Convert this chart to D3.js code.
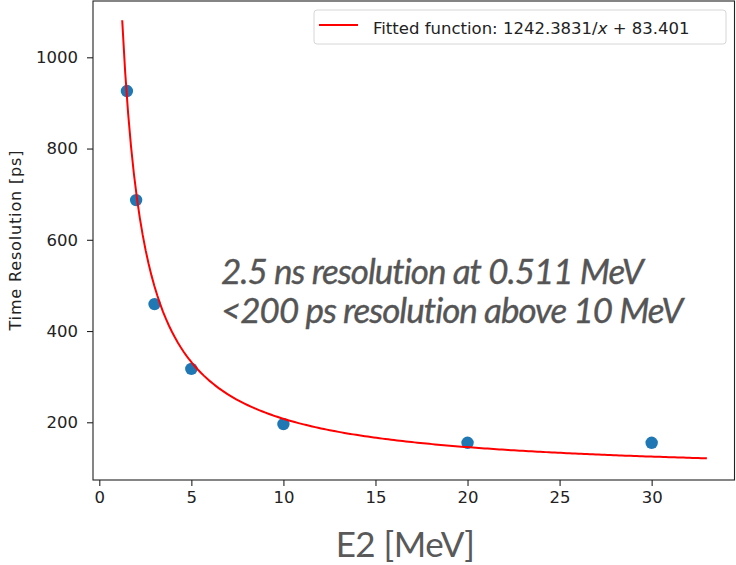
<!DOCTYPE html>
<html>
<head>
<meta charset="utf-8">
<script src="https://cdn.jsdelivr.net/npm/d3@7"></script>
<style>
  html, body { margin: 0; padding: 0; background: #fff; }
  svg { display: block; }
</style>
</head>
<body>
<svg id="chart" width="736" height="565"></svg>
<script>
// ---- data ----
const energies = [1.5, 2, 3, 5, 10, 20, 30];          // E2 [MeV]
const resolutions = [926, 687, 459, 317, 196, 155, 155]; // Time resolution [ps]
const fitA = 1242.3831;   // fitted: A / x + B (from the legend)
const fitB = 83.401;
const fitRange = [1.245, 33];
const xTicks = [0, 5, 10, 15, 20, 25, 30];
const yTicks = [200, 400, 600, 800, 1000];
const legendLabel = "Fitted function: 1242.3831/";
const annotationLines = ["2.5 ns resolution at 0.511 MeV", "<200 ps resolution above 10 MeV"];
const xLabel = "E2 [MeV]";
const yLabel = "Time Resolution [ps]";

// ---- layout ----
const svg = d3.select("#chart");
const plot = { left: 93, right: 734.5, top: 1, bottom: 480 };

const x = d3.scaleLinear().domain([-0.342, 34.5]).range([plot.left, plot.right]);
const y = d3.scaleLinear().domain([73.5, 1123.4]).range([plot.bottom, plot.top]);

// fitted curve samples
const fitXs = d3.range(0, 201).map(i => fitRange[0] + (fitRange[1] - fitRange[0]) * i / 200);
const fitPts = fitXs.map(v => [v, fitA / v + fitB]);

// axes
const xAxis = d3.axisBottom(x).tickValues(xTicks).tickSize(6).tickPadding(5).tickFormat(d3.format("d"));
const yAxis = d3.axisLeft(y).tickValues(yTicks).tickSize(6).tickPadding(9).tickFormat(d3.format("d"));

const gx = svg.append("g").attr("transform", `translate(0,${plot.bottom})`).call(xAxis);
const gy = svg.append("g").attr("transform", `translate(${plot.left},0)`).call(yAxis);
[gx, gy].forEach(g => {
  g.select(".domain").remove();
  g.selectAll(".tick line").attr("stroke", "#222").attr("stroke-width", 1.1);
  g.selectAll(".tick text").attr("fill", "#222")
    .style("font-family", "'DejaVu Sans', sans-serif").style("font-size", "16.5px");
});

// points (drawn under the line)
svg.append("g").selectAll("circle").data(energies).join("circle")
  .attr("cx", (d) => x(d))
  .attr("cy", (d, i) => y(resolutions[i]))
  .attr("r", 6.2)
  .attr("fill", "#1f77b4");

// fitted line
svg.append("path")
  .datum(fitPts)
  .attr("fill", "none")
  .attr("stroke", "#ff0000")
  .attr("stroke-width", 2)
  .attr("d", d3.line().x(d => x(d[0])).y(d => y(d[1])));

// frame
svg.append("rect")
  .attr("x", plot.left).attr("y", plot.top)
  .attr("width", plot.right - plot.left).attr("height", plot.bottom - plot.top)
  .attr("fill", "none").attr("stroke", "#222").attr("stroke-width", 1.1);

// legend
const lg = svg.append("g");
lg.append("rect").attr("x", 314).attr("y", 10).attr("width", 412).attr("height", 34)
  .attr("rx", 3).attr("fill", "#fff").attr("stroke", "#d6d6d6").attr("stroke-width", 1);
lg.append("line").attr("x1", 319).attr("x2", 358).attr("y1", 25).attr("y2", 25)
  .attr("stroke", "#ff0000").attr("stroke-width", 2);
const lt = lg.append("text").attr("x", 373).attr("y", 33.5).attr("fill", "#222")
  .style("font-family", "'DejaVu Sans', sans-serif").style("font-size", "16.5px");
lt.append("tspan").text(legendLabel);
lt.append("tspan").style("font-style", "italic").text("x");
lt.append("tspan").text(" + 83.401");

// y label
svg.append("text")
  .attr("transform", `translate(21,${(plot.top + plot.bottom) / 2}) rotate(-90)`)
  .attr("text-anchor", "middle")
  .attr("fill", "#222")
  .attr("textLength", 180)
  .attr("lengthAdjust", "spacing")
  .style("font-family", "'DejaVu Sans', sans-serif").style("font-size", "16px")
  .text(yLabel);

// x label
svg.append("text")
  .attr("x", 405).attr("y", 557)
  .attr("text-anchor", "middle")
  .attr("fill", "#595959")
  .style("font-family", "Lato, sans-serif").style("font-size", "35px")
  .style("letter-spacing", "-0.5px")
  .text(xLabel);

// annotation
svg.append("g").selectAll("text").data(annotationLines).join("text")
  .attr("x", 221)
  .attr("y", (d, i) => 283.5 + i * 39.5)
  .attr("fill", "#555")
  .attr("stroke", "#555").attr("stroke-width", 0.35)
  .style("font-family", "Lato, sans-serif").style("font-style", "italic").style("font-size", "35px")
  .style("letter-spacing", "-1px")
  .text(d => d);
</script>
</body>
</html>
